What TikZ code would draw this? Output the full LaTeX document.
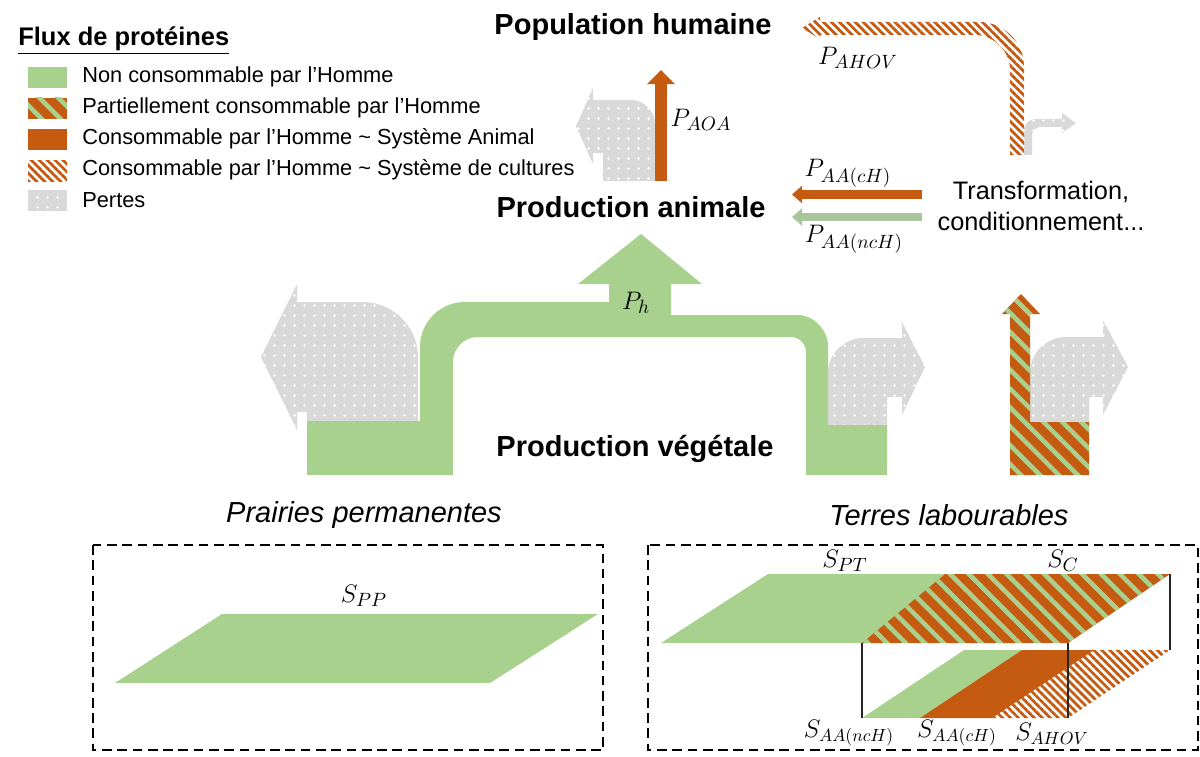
\documentclass[tikz,border=0pt]{standalone}
\usepackage{fontspec}
\setmainfont{Liberation Sans}
\usetikzlibrary{patterns.meta,arrows.meta}
\definecolor{cGr}{HTML}{A9D18E}
\definecolor{cGrB}{HTML}{A8C59B}
\definecolor{cOr}{HTML}{C55A11}
\definecolor{cGy}{HTML}{D9D9D9}

\begin{document}
\begin{tikzpicture}[x=0.02cm, y=-0.02cm,
  ncH/.style={fill=cGr},
  pcH/.style={preaction={fill=cOr}, pattern={Lines[angle=-45,distance=7.6pt,line width=2.6pt]}, pattern color=cGr},
  caH/.style={fill=cOr},
  ccH/.style={pattern={Lines[angle=-45,distance=3.2pt,line width=1.6pt]}, pattern color=cOr},
  loss/.style={preaction={fill=cGy}, pattern={Dots[radius=0.8pt,distance=5.4pt]}, pattern color=white},
  ttl/.style={font=\fontsize{16.5}{19}\selectfont\bfseries, inner sep=0pt},
  sub/.style={font=\fontsize{16.5}{19}\selectfont\itshape, inner sep=0pt},
  leg/.style={font=\fontsize{12.4}{14}\selectfont, anchor=west, inner sep=0pt},
  mth/.style={font=\fontsize{15}{17}\selectfont, inner sep=0pt},
  frm/.style={line width=1.4pt, dash pattern=on 5.5pt off 3.2pt},
  edg/.style={line width=0.6pt, draw=black!85},
  flw/.style={draw=#1, line width=5.1pt, -{Triangle[length=5.7pt,width=9.6pt]}},
]
\useasboundingbox (0,0) rectangle (1200,757);
% legend
\node[leg, font=\fontsize{14.5}{17}\selectfont\bfseries] (legt) at (18,41) {\underline{Flux de protéines}};
\path[ncH] (28,67) rectangle (67,88);
\path[pcH] (28,98) rectangle (67,119);
\path[caH] (28,129) rectangle (67,150);
\path[ccH] (28,160) rectangle (67,181);
\path[loss] (28,190) rectangle (67,211);
\node[leg] (l1) at (82,77) {Non consommable par l'Homme};
\node[leg] (l2) at (82,108) {Partiellement consommable par l'Homme};
\node[leg] (l3) at (82,139) {Consommable par l'Homme \textasciitilde{} Système Animal};
\node[leg] (l4) at (82,170) {Consommable par l'Homme \textasciitilde{} Système de cultures};
\node[leg] (l5) at (82,200) {Pertes};
% levels
\node[ttl] (pophum) at (633,27) {Population humaine};
\node[ttl] (prodani) at (631,207) {Production animale};
\node[ttl] (prodveg) at (635,449) {Production végétale};
\node[font=\fontsize{14.4}{18}\selectfont, align=center, inner sep=0pt] (transf) at (1041,206) {Transformation,\\conditionnement...};
% losses
\path[loss] (418,421) -- (418,357) .. controls (418,327) and (393,302) .. (363,302) -- (297,302) -- (297,284) -- (261,357)
  -- (297,430) -- (297,412) -- (307,412) -- (307,421) -- cycle;
\path[loss] (828,425) -- (828,373) .. controls (828,354) and (844,338) .. (863,338) -- (902,338) -- (902,322) -- (925,367)
  -- (902,415) -- (902,397) -- (887,397) -- (887,425) -- cycle;
\path[loss] (1030,422) -- (1030,373) .. controls (1030,353) and (1046,337) .. (1066,337) -- (1103,337) -- (1103,320) -- (1128,367)
  -- (1103,415) -- (1103,397) -- (1089,397) -- (1089,422) -- cycle;
\path[loss] (655,181) -- (655,124) .. controls (655,111) and (644,100) .. (631,100) -- (593,100) -- (593,88) -- (576,126)
  -- (593,164) -- (593,153) -- (603,153) -- (603,181) -- cycle;
\path[loss] (1024,155) -- (1024,131) .. controls (1024,124) and (1029,119) .. (1036,119) -- (1062,119) -- (1062,113) -- (1076,123)
  -- (1062,133) -- (1062,127) -- (1040,127) .. controls (1036,127) and (1032,131) .. (1032,135) -- (1032,155) -- cycle;
% vegetal flows
\path[ncH] (307,475) -- (307,421) -- (420,421) -- (420,347) .. controls (420,322) and (440,302) .. (465,302) -- (609,302)
  -- (609,284) -- (578,284) -- (641,234) -- (702,284) -- (671,284) -- (671,315) -- (798,315)
  .. controls (814.5,315) and (828,331.5) .. (828,345) -- (828,425) -- (887,425) -- (887,475) -- (806,475) -- (806,352)
  .. controls (806,344) and (799,337) .. (791,337) -- (478,337) .. controls (464,337) and (453,348) .. (453,362) -- (453,475) -- cycle;
\path[pcH] (1010,475) -- (1010,314) -- (1002,314) -- (1021,294) -- (1040,314) -- (1030,314) -- (1030,422)
  -- (1089,422) -- (1089,475) -- cycle;
\path[ccH] (1024,155) -- (1024,67) .. controls (1024,42) and (1004,22) .. (979,22) -- (820,22) -- (820,17) -- (802,28)
  -- (820,39) -- (820,35) -- (975,35) .. controls (994,35) and (1010,51) .. (1010,70) -- (1010,155) -- cycle;
% animal flows
\coordinate (aoaS) at (661,181);
\coordinate (aoaE) at (661,70);
\draw[draw=cOr, line width=6.8pt, -{Triangle[length=8pt,width=15.3pt]}] (aoaS) -- (aoaE);
\coordinate (chS) at (922,194.5);
\coordinate (chE) at (792,194.5);
\coordinate (nchS) at (922,217);
\coordinate (nchE) at (792,217);
\draw[flw=cOr] (chS) -- (chE);
\draw[flw=cGrB] (nchS) -- (nchE);
\node[mth] (pAOA) at (701,120) {$P_{AOA}$};
\node[mth] (pAHOV) at (858,58) {$P_{AHOV}$};
\node[mth] (pAAc) at (848,173) {$P_{AA(cH)}$};
\node[mth] (pAAn) at (854,239) {$P_{AA(ncH)}$};
\node[mth] (pH) at (636,303) {$P_{h}$};
% surfaces
\node[sub] (prairie) at (364,515) {Prairies permanentes};
\node[sub] (terres) at (949,515) {Terres labourables};
\draw[frm] (93,545) rectangle (603,750);
\draw[frm] (648,545) rectangle (1198,750);
\path[ncH] (115,683) -- (222,614) -- (598,614) -- (490,683) -- cycle;
\node[mth] (sPP) at (364,596) {$S_{PP}$};
\path[ncH] (661,643) -- (768,574) -- (945,574) -- (862,643) -- cycle;
\path[pcH] (862,643) -- (945,574) -- (1170,574) -- (1068,643) -- cycle;
\path[ncH] (862,718) -- (964,650) -- (1022,650) -- (920,718) -- cycle;
\path[caH] (920,718) -- (1022,650) -- (1094,650) -- (992,718) -- cycle;
\path[ccH] (992,718) -- (1094,650) -- (1170,650) -- (1068,718) -- cycle;
\draw[edg] (862,643) -- (862,718);
\draw[edg] (1068,643) -- (1068,718);
\draw[edg] (1170,574) -- (1170,650);
\node[mth] (sPT) at (845,561) {$S_{PT}$};
\node[mth] (sC) at (1063,561) {$S_{C}$};
\node[mth, font=\fontsize{14.3}{17}\selectfont] (sAAn) at (849,733) {$S_{AA(ncH)}$};
\node[mth, font=\fontsize{14.3}{17}\selectfont] (sAAc) at (957,733) {$S_{AA(cH)}$};
\node[mth, font=\fontsize{14.3}{17}\selectfont] (sAHOV) at (1052,734) {$S_{AHOV}$};
\end{tikzpicture}
\end{document}
